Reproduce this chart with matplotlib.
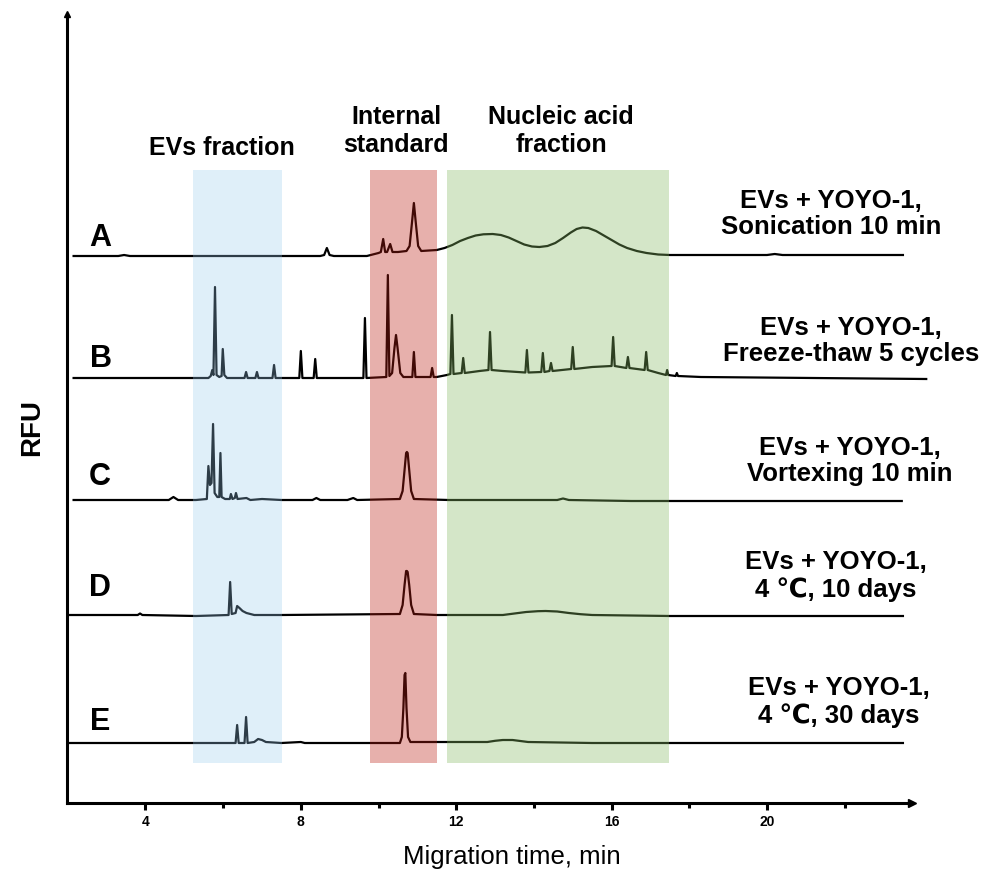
import matplotlib
matplotlib.use("Agg")
import matplotlib.pyplot as plt
from matplotlib.ticker import FixedLocator

# ---------------- data (migration time in min, signal in RFU units) ----------------
trace_a = [(2.15, 547), (3.3, 547), (3.45, 548), (3.6, 547), (8.5, 547), (8.6, 548), (8.67, 555),
           (8.74, 548), (8.85, 547), (9.7, 547), (10.0, 550), (10.06, 551), (10.12, 564), (10.17, 551),
           (10.22, 551), (10.30, 559), (10.36, 551), (10.5, 551), (10.72, 552), (10.80, 557),
           (10.86, 580), (10.91, 600), (10.96, 580), (11.02, 557), (11.10, 552), (11.5, 553),
           (11.7, 555), (11.9, 558), (12.1, 562), (12.3, 565), (12.5, 567.5), (12.7, 568.7),
           (12.94, 569), (13.15, 568), (13.35, 565.5), (13.55, 562), (13.75, 558.5), (13.95, 556.5),
           (14.14, 556), (14.35, 557), (14.55, 560), (14.75, 565), (14.95, 570.5), (15.1, 574),
           (15.25, 575.5), (15.4, 575), (15.6, 572), (15.8, 567.5), (16.0, 563), (16.2, 558.5),
           (16.4, 555), (16.65, 552), (16.9, 550), (17.2, 548.5), (17.5, 548), (20.0, 548),
           (20.2, 549), (20.4, 548), (23.5, 548)]

trace_b = [(2.15, 425), (5.3, 425), (5.62, 425), (5.68, 427), (5.72, 433), (5.75, 428), (5.79, 516),
           (5.83, 428), (5.90, 426), (5.96, 427), (5.99, 454), (6.03, 428), (6.1, 425), (6.55, 425),
           (6.59, 431), (6.63, 425), (6.83, 425), (6.87, 431), (6.91, 425), (7.27, 425), (7.31, 438),
           (7.35, 425), (7.96, 425), (8.0, 452), (8.04, 425), (8.33, 425), (8.37, 444), (8.41, 425),
           (9.61, 425), (9.65, 485), (9.69, 425), (10.2, 426), (10.24, 528), (10.28, 427), (10.35, 430),
           (10.41, 455), (10.45, 468), (10.49, 455), (10.56, 430), (10.64, 426), (10.87, 426),
           (10.91, 451), (10.95, 426), (11.34, 426), (11.38, 435), (11.42, 426), (11.5, 426),
           (11.76, 428), (11.85, 429), (11.89, 488), (11.93, 429), (12.14, 430), (12.18, 445),
           (12.22, 430), (12.6, 432), (12.83, 433), (12.87, 471), (12.91, 433), (13.2, 432),
           (13.78, 430.5), (13.82, 453), (13.86, 430.5), (14.19, 431), (14.23, 450), (14.27, 431),
           (14.40, 432), (14.44, 440), (14.48, 432), (14.96, 434), (15.0, 456), (15.04, 434),
           (15.5, 436), (16.0, 437), (16.04, 466), (16.08, 437), (16.38, 435), (16.42, 446),
           (16.46, 435), (16.85, 433), (16.89, 451), (16.93, 433), (17.2, 430), (17.40, 428),
           (17.43, 433), (17.46, 428), (17.65, 427), (17.68, 430), (17.71, 427), (18.3, 426), (24.1, 424)]

trace_c = [(2.15, 303), (4.6, 303), (4.72, 306), (4.84, 303), (5.3, 303), (5.58, 304), (5.62, 337),
           (5.66, 318), (5.70, 320), (5.74, 379), (5.78, 310), (5.85, 306), (5.90, 306), (5.93, 350),
           (5.96, 306), (6.05, 304), (6.17, 304), (6.20, 309), (6.24, 304), (6.30, 305), (6.33, 310),
           (6.37, 304), (6.6, 305), (6.7, 303), (7.0, 304), (7.5, 303), (8.3, 303), (8.4, 305),
           (8.5, 303), (9.2, 303), (9.35, 305), (9.45, 303), (10.55, 304), (10.62, 312), (10.67, 333),
           (10.71, 350), (10.73, 351), (10.75, 350), (10.79, 333), (10.84, 312), (10.91, 304),
           (11.8, 303), (14.6, 303), (14.75, 304.5), (14.9, 303), (16.5, 302), (23.47, 302)]

trace_d = [(2.06, 188), (3.8, 188), (3.86, 189.5), (3.92, 188), (5.3, 187), (6.14, 188), (6.18, 221),
           (6.22, 189), (6.32, 190), (6.36, 197), (6.42, 195), (6.5, 192), (6.6, 190), (6.8, 188),
           (7.5, 188), (10.55, 189), (10.62, 198), (10.67, 218), (10.71, 232), (10.73, 232),
           (10.75, 231), (10.79, 218), (10.84, 198), (10.91, 189), (11.5, 188), (13.2, 188),
           (13.5, 189.5), (13.8, 191), (14.1, 191.8), (14.3, 192), (14.6, 191.5), (14.9, 190),
           (15.2, 188.8), (15.5, 188), (17.5, 187), (23.5, 187)]

trace_e = [(2.06, 60), (5.3, 60), (6.32, 60), (6.36, 78), (6.40, 60), (6.55, 60), (6.59, 86),
           (6.63, 60), (6.8, 61), (6.9, 64), (7.0, 63), (7.1, 61), (7.5, 60), (8.0, 61), (8.1, 60),
           (10.55, 60), (10.60, 66), (10.64, 95), (10.67, 128), (10.69, 130), (10.72, 95),
           (10.76, 66), (10.82, 61), (11.5, 61), (12.8, 61), (13.0, 62.2), (13.2, 63), (13.45, 63),
           (13.65, 62), (13.85, 61), (15.5, 60), (17.5, 60), (23.5, 60)]

traces = [trace_a, trace_b, trace_c, trace_d, trace_e]
trace_letters = ["A", "B", "C", "D", "E"]
trace_labels = ["EVs + YOYO-1,\nSonication 10 min",
                "EVs + YOYO-1,\nFreeze-thaw 5 cycles",
                "EVs + YOYO-1,\nVortexing 10 min",
                "EVs + YOYO-1,\n4 \u2103, 10 days",
                "EVs + YOYO-1,\n4 \u2103, 30 days"]

region_names = ["EVs fraction", "Internal\nstandard", "Nucleic acid\nfraction"]
region_spans = [(5.23, 7.52), (9.78, 11.51), (11.76, 17.48)]
region_colors = [(152/255, 202/255, 238/255), (189/255, 29/255, 18/255), (132/255, 184/255, 98/255)]
region_alpha = [0.30, 0.35, 0.35]
region_ylim = (40, 633)

major_ticks = [4, 8, 12, 16, 20]
minor_ticks = [6, 10, 14, 18, 22]

# ---------------- figure ----------------
W, H = 984, 874
fig = plt.figure(figsize=(W / 100, H / 100), dpi=100)

def fx(px):
    return px / W

def fy(py):
    return 1 - py / H

ax_left, ax_right, ax_top, ax_bottom = 67, 934, 14, 803
ax = fig.add_axes([fx(ax_left), fy(ax_bottom), (ax_right - ax_left) / W, (ax_bottom - ax_top) / H])
x0, x1 = 1.98, 24.3
ax.set_xlim(x0, x1)
ax.set_ylim(0, ax_bottom - ax_top)

for tr in traces:
    t, v = zip(*tr)
    ax.plot(t, v, color="black", lw=1.6, zorder=2, solid_joinstyle="round")

for (a, b), c, al in zip(region_spans, region_colors, region_alpha):
    ax.fill_between([a, b], region_ylim[0], region_ylim[1], color=c, alpha=al, lw=0, zorder=3)

# axes styling
for s in ["top", "right"]:
    ax.spines[s].set_visible(False)
ax.spines["left"].set_linewidth(2.2)
ax.spines["bottom"].set_linewidth(2.2)
x_arrow = 23.73
ax.spines["bottom"].set_bounds(x0, x_arrow)
ax.spines["left"].set_bounds(0, ax_bottom - ax_top)
ax.plot([x_arrow], [0], marker=">", ms=6, color="black", clip_on=False, zorder=5)
ax.plot([x0], [ax_bottom - ax_top], marker="^", ms=5, color="black", clip_on=False, zorder=5)

ax.set_yticks([])
ax.xaxis.set_major_locator(FixedLocator(major_ticks))
ax.xaxis.set_minor_locator(FixedLocator(minor_ticks))
ax.tick_params(axis="x", which="major", direction="out", length=5, width=2.2, pad=4,
               labelsize=10)
ax.tick_params(axis="x", which="minor", direction="out", length=3.5, width=2.2)
for lab in ax.get_xticklabels():
    lab.set_fontweight("bold")
    lab.set_family(["Liberation Sans", "DejaVu Sans"])

# texts
bold = dict(family=["Liberation Sans", "DejaVu Sans"], fontweight="bold", color="black")

letter_pos = [(100, 238), (101, 359), (100, 477), (100, 588), (100, 722)]
for L, (px, py) in zip(trace_letters, letter_pos):
    fig.text(fx(px), fy(py), L, ha="center", va="center", fontsize=22, **bold)

label_pos = [(831, 214), (851, 341), (850, 461), (836, 576), (839, 702)]
for lab, (px, py) in zip(trace_labels, label_pos):
    fig.text(fx(px), fy(py), lab, ha="center", va="center", fontsize=18.5,
             multialignment="center", linespacing=1.15, **bold)

header_pos = [(222, 148), (396, 131), (561, 131)]
for lab, (px, py) in zip(region_names, header_pos):
    fig.text(fx(px), fy(py), lab, ha="center", va="center", fontsize=18,
             multialignment="center", linespacing=1.25, **bold)

fig.text(fx(32), fy(428), "RFU", rotation=90, ha="center", va="center", fontsize=20, **bold)
fig.text(fx(512), fy(857), "Migration time, min", ha="center", va="center", fontsize=18.5,
         family=["Liberation Sans", "DejaVu Sans"], color="black")

fig.savefig("out.png", dpi=100)
